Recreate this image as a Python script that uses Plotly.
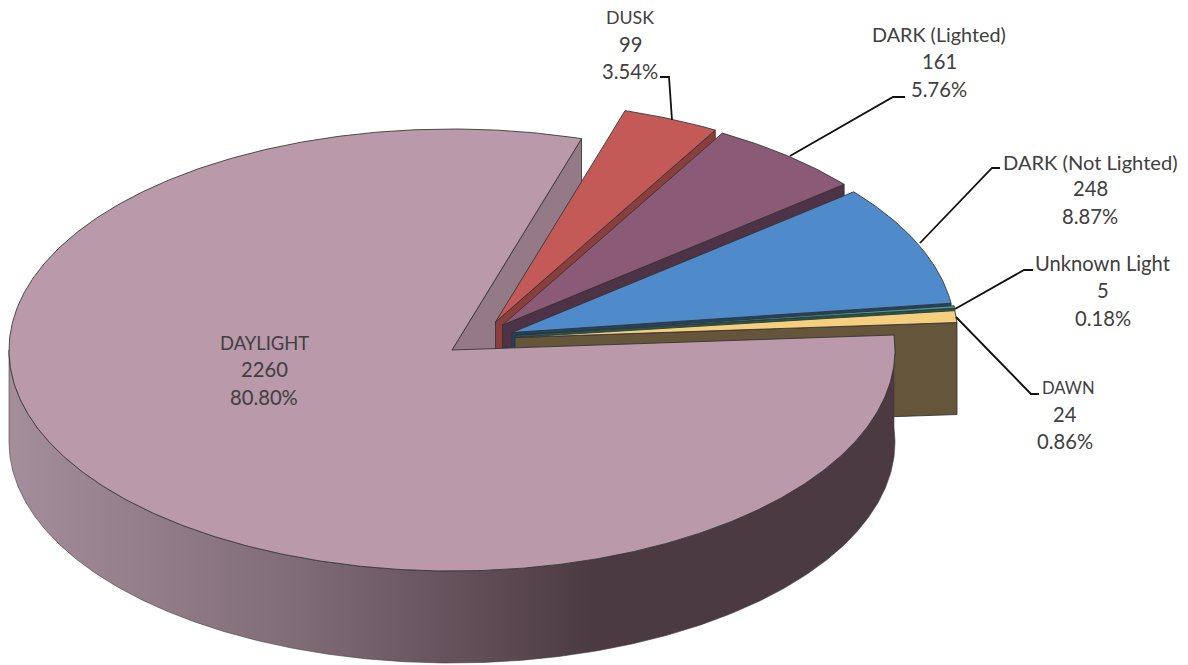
import math
import plotly.graph_objects as go

# Data
labels = ["DAYLIGHT", "DUSK", "DARK (Lighted)", "DARK (Not Lighted)", "Unknown Light", "DAWN"]
counts = [2260, 99, 161, 248, 5, 24]

# Style / layout
top_colors = ["#b999aa", "#c45a58", "#8b5a76", "#4f8bcb", "#4a9a8c", "#f5cf7e"]
wall_colors = ["#947a86", "#8c3e3c", "#4e3246", "#1f4468", "#1f5a50", "#65553a"]
offsets = [(0, 0), (43.5, -28), (50.5, -25), (60, -17.5), (63, -15), (63, -12.5)]
label_x = [264, 630, 939, 1090, 1103, 1065]
label_y = [[343, 369, 397], [17, 44, 71], [34, 61, 89], [162, 188, 216], [263, 290, 318], [388, 414, 441]]
name_x = [264, 630, 939, 1090, 1103, 1068]
name_sizes = [18.4, 17.8, 19.8, 20.1, 20.2, 16.6]
leader_x = [None, [672, 669, 660], [790, 893, 905], [920, 992, 1000], [955, 1024, 1033], [956, 1031, 1039]]
leader_y = [None, [120, 77, 77], [156, 97, 97], [243, 168, 168], [309, 270, 270], [317, 394, 394]]
CX, CY, RX, RY, DEPTH = 452, 350, 443, 221, 92
START_ANGLE = 73.0
EDGE = "rgba(50,50,50,0.85)"
TEXT_COLOR = "#404040"

total = sum(counts)
fractions = [c / total for c in counts]


def pt(t, off=(0, 0), dy=0):
    r = math.radians(t)
    return CX + off[0] + RX * math.cos(r), CY + off[1] - RY * math.sin(r) + dy


def arc(t0, t1, off=(0, 0), dy=0):
    n = max(2, int(abs(t1 - t0) * 2))
    pts = [pt(t0 + (t1 - t0) * i / n, off, dy) for i in range(n + 1)]
    return [p[0] for p in pts], [p[1] for p in pts]


def poly(xs, ys, color, **kw):
    return go.Scatter(x=xs + xs[:1], y=ys + ys[:1], mode="lines", fill="toself", fillcolor=color,
                      line=dict(color=EDGE, width=1), hoverinfo="skip", showlegend=False, **kw)


# Sweep: slice 0 runs the long way round, the others follow clockwise from the start angle
bounds = []
t = START_ANGLE
for i in range(1, len(counts)):
    t1 = t - fractions[i] * 360
    bounds.append((i, t, t1))
    t = t1
day_start, day_end = t, START_ANGLE - 360  # clockwise from last boundary round to the start angle

fig = go.Figure()

# Daylight back cut face
ox, oy = pt(START_ANGLE)
fig.add_trace(poly([CX, ox, ox, CX], [CY, oy, oy + DEPTH, CY + DEPTH], wall_colors[0]))

# Exploded slices, back to front: cut face then top
for i, a, b in bounds:
    off = offsets[i]
    ax, ay = CX + off[0], CY + off[1]
    ex, ey = pt(b, off)
    fig.add_trace(poly([ax, ex, ex, ax], [ay, ey, ey + DEPTH, ay + DEPTH], wall_colors[i]))
    xs, ys = arc(a, b, off)
    fig.add_trace(poly([ax] + xs, [ay] + ys, top_colors[i]))

# Daylight outer wall with horizontal gradient
xs_top, ys_top = arc(day_start, -180)
xs_bot, ys_bot = arc(-180, day_start, dy=DEPTH)
wall = go.Scatter(
    x=xs_top + xs_bot + xs_top[:1], y=ys_top + ys_bot + ys_top[:1], mode="lines", fill="toself",
    fillgradient=dict(type="horizontal", start=9, stop=895,
                      colorscale=[[0, "#a48e9b"], [0.33, "#7f6b76"], [0.66, "#4c3a42"], [1, "#4c3a42"]]),
    line=dict(color="rgba(70,60,65,0.6)", width=1), hoverinfo="skip", showlegend=False)
fig.add_trace(wall)

# Daylight top
xs, ys = arc(day_start, day_end)
fig.add_trace(poly([CX] + xs, [CY] + ys, top_colors[0]))

# Leaders
for lx, ly in zip(leader_x, leader_y):
    if lx:
        fig.add_trace(go.Scatter(x=lx, y=ly, mode="lines", line=dict(color="#111111", width=1.8),
                                 hoverinfo="skip", showlegend=False))

# Labels
annotations = []
for name, c, f, x, nx, ly, ns in zip(labels, counts, fractions, label_x, name_x, label_y, name_sizes):
    for line, lxx, y, size in zip([name, str(c), f"{f * 100:.2f}%"], [nx, x, x], ly, [ns, 20.2, 20.2]):
        annotations.append(dict(x=lxx, y=y, xref="x", yref="y", text=line, showarrow=False,
                                xanchor="center", yanchor="middle",
                                font=dict(family="Lato", size=size, color=TEXT_COLOR)))

fig.update_layout(
    width=1188, height=665, margin=dict(l=0, r=0, t=0, b=0), showlegend=False,
    paper_bgcolor="white", plot_bgcolor="white", annotations=annotations,
    xaxis=dict(range=[0, 1188], visible=False, fixedrange=True),
    yaxis=dict(range=[665, 0], visible=False, fixedrange=True),
)
fig.write_html("out.html", config=dict(displayModeBar=False),
               post_script="document.body.style.margin='0';document.documentElement.style.overflow='hidden';")
